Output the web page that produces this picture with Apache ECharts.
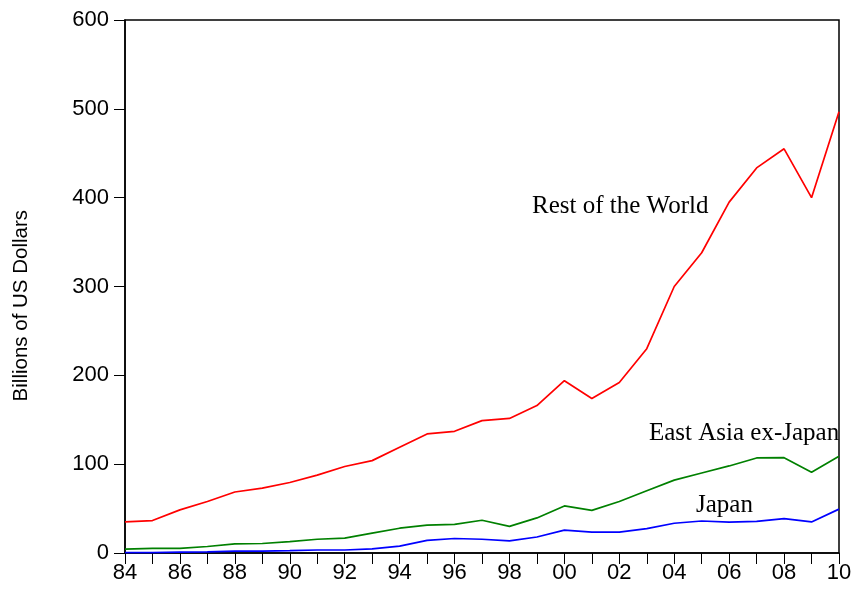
<!DOCTYPE html>
<html>
<head>
<meta charset="utf-8">
<script src="https://cdn.jsdelivr.net/npm/echarts@6/dist/echarts.min.js"></script>
<style>
  html, body { margin: 0; padding: 0; background: #fff; }
  #chart { width: 856px; height: 599px; }
</style>
</head>
<body>
<div id="chart"></div>
<script>
// years 1984 - 2010
var years = ['84','85','86','87','88','89','90','91','92','93','94','95','96','97',
             '98','99','00','01','02','03','04','05','06','07','08','09','10'];

// Billions of US Dollars
var restOfWorld = [35, 36.5, 48.5, 58, 68.7, 73, 79.4, 87.6, 97.4, 104, 119, 134, 137, 149,
                   151.5, 166, 194, 174, 192, 230, 300, 338, 395, 433.5, 455, 400, 496.6];
var eastAsiaExJapan = [4.3, 5.2, 5.2, 7.3, 10.3, 10.7, 12.9, 15.5, 16.7, 22.3, 27.9, 31.3, 32.2, 36.9,
                       30, 39.5, 53, 48, 58, 70, 82, 90, 98, 107, 107.3, 91, 109];
var japan = [0.5, 0.5, 1, 1.3, 2.1, 2.1, 2.6, 3.4, 3.4, 4.7, 7.7, 14.2, 16.3, 15.5,
             13.7, 18, 25.8, 23.6, 23.6, 27.5, 33.5, 36, 34.8, 35.6, 38.6, 35, 49.4];

var yTicks = [0, 100, 200, 300, 400, 500, 600];

var chart = echarts.init(document.getElementById('chart'));

var serifText = {
    fontFamily: '"Liberation Serif", "Times New Roman", serif',
    fontSize: 25,
    fill: '#000'
};

chart.setOption({
    animation: false,
    grid: {
        left: 125,
        right: 17,
        top: 20,
        bottom: 46,
        show: true,
        borderColor: '#000',
        borderWidth: 1.5,
        backgroundColor: 'transparent'
    },
    xAxis: {
        type: 'category',
        data: years,
        boundaryGap: false,
        axisLine: { lineStyle: { color: '#000', width: 1.5 } },
        axisTick: { show: true, interval: 0, length: 11, lineStyle: { color: '#000', width: 1 } },
        axisLabel: {
            interval: 1,
            margin: 9,
            color: '#000',
            fontFamily: '"Liberation Sans", Arial, sans-serif',
            fontSize: 22
        },
        splitLine: { show: false }
    },
    yAxis: {
        type: 'value',
        min: yTicks[0],
        max: yTicks[yTicks.length - 1],
        interval: 100,
        axisLine: { show: true, lineStyle: { color: '#000', width: 1.5 } },
        axisTick: { show: true, length: 11, lineStyle: { color: '#000', width: 1 } },
        axisLabel: {
            margin: 16,
            color: '#000',
            fontFamily: '"Liberation Sans", Arial, sans-serif',
            fontSize: 22
        },
        splitLine: { show: false }
    },
    graphic: [
        {
            type: 'text',
            left: 11,
            top: 210,
            rotation: Math.PI / 2,
            style: {
                text: 'Billions of US Dollars',
                fontFamily: '"Liberation Sans", Arial, sans-serif',
                fontSize: 20.5,
                fill: '#000'
            }
        },
        { type: 'text', left: 532, top: 194, style: Object.assign({ text: 'Rest of the World' }, serifText) },
        { type: 'text', left: 649, top: 421, style: Object.assign({ text: 'East Asia ex-Japan' }, serifText) },
        { type: 'text', left: 696, top: 493, style: Object.assign({ text: 'Japan' }, serifText) }
    ],
    series: [
        {
            name: 'Rest of the World',
            type: 'line',
            data: restOfWorld,
            symbol: 'none',
            lineStyle: { color: '#ff0000', width: 1.7 }
        },
        {
            name: 'East Asia ex-Japan',
            type: 'line',
            data: eastAsiaExJapan,
            symbol: 'none',
            lineStyle: { color: '#008000', width: 1.7 }
        },
        {
            name: 'Japan',
            type: 'line',
            data: japan,
            symbol: 'none',
            lineStyle: { color: '#0000ff', width: 1.7 }
        }
    ]
});
</script>
</body>
</html>
